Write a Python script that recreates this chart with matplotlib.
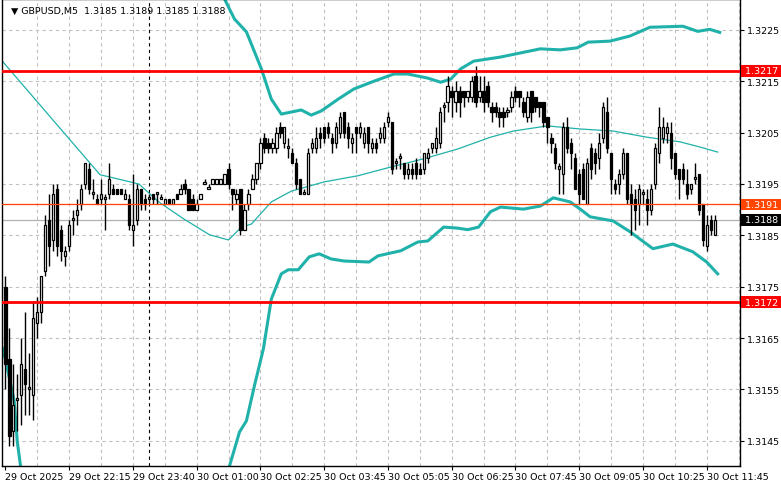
import numpy as np
import matplotlib.pyplot as plt

# GBPUSD M5 candles, prices written as 4 last digits (3175 -> 1.3175)
opens = [3175, 3161, 3147, 3153, 3154, 3159, 3155, 3154, 3168, 3170,
         3178, 3188, 3184, 3194, 3186, 3181, 3183, 3188, 3189, 3191,
         3195, 3198, 3193, 3192, 3192, 3192, 3193, 3194, 3194, 3194,
         3192, 3192, 3186, 3188, 3194, 3192, 3192, 3193, 3193, 3192,
         3191, 3192, 3191, 3193, 3193, 3195, 3194, 3192, 3190, 3192,
         3195, 3194, 3195, 3195, 3195, 3195, 3198, 3194, 3192, 3194,
         3186, 3191, 3194, 3196, 3199, 3204, 3203, 3202, 3202, 3206,
         3203, 3202, 3201, 3199, 3196, 3193, 3193, 3202, 3202, 3205,
         3206, 3206, 3204, 3203, 3205, 3209, 3206, 3203, 3206, 3205,
         3203, 3206, 3202, 3203, 3204, 3204, 3207, 3207, 3199, 3200,
         3199, 3197, 3198, 3199, 3198, 3198, 3200, 3202, 3202, 3203,
         3210, 3211, 3213, 3211, 3213, 3213, 3212, 3212, 3216, 3212,
         3213, 3214, 3210, 3210, 3209, 3209, 3209, 3210, 3213, 3213,
         3211, 3208, 3213, 3212, 3211, 3211, 3208, 3204, 3202, 3198,
         3197, 3206, 3203, 3200, 3197, 3198, 3191, 3202, 3201, 3200,
         3204, 3209, 3201, 3195, 3195, 3197, 3201, 3193, 3192, 3191,
         3193, 3192, 3190, 3195, 3201, 3204, 3205, 3205, 3201, 3198,
         3198, 3195, 3194, 3196, 3197, 3191, 3183, 3188, 3185]
closes = [3160, 3146, 3152, 3153, 3160, 3156, 3155, 3169, 3170, 3177,
          3187, 3183, 3193, 3183, 3182, 3182, 3187, 3188, 3190, 3194,
          3199, 3194, 3193, 3191, 3193, 3192, 3196, 3193, 3193, 3193,
          3193, 3187, 3187, 3194, 3191, 3191, 3192, 3192, 3193, 3192,
          3192, 3191, 3192, 3192, 3194, 3194, 3190, 3190, 3191, 3193,
          3195, 3194, 3196, 3196, 3196, 3197, 3195, 3193, 3193, 3186,
          3190, 3193, 3196, 3199, 3203, 3202, 3202, 3203, 3205, 3205,
          3206, 3202, 3199, 3195, 3193, 3193, 3201, 3203, 3204, 3204,
          3204, 3205, 3203, 3206, 3208, 3205, 3204, 3204, 3205, 3206,
          3205, 3203, 3203, 3202, 3205, 3206, 3208, 3198, 3199, 3200,
          3197, 3198, 3197, 3197, 3197, 3201, 3201, 3203, 3204, 3209,
          3210, 3214, 3212, 3213, 3211, 3212, 3213, 3215, 3211, 3213,
          3211, 3211, 3209, 3209, 3208, 3208, 3209, 3212, 3212, 3212,
          3209, 3212, 3209, 3210, 3210, 3207, 3206, 3203, 3199, 3198,
          3206, 3202, 3201, 3194, 3193, 3192, 3199, 3198, 3199, 3203,
          3210, 3202, 3196, 3194, 3197, 3201, 3192, 3191, 3190, 3194,
          3193, 3190, 3194, 3202, 3206, 3206, 3206, 3200, 3197, 3196,
          3196, 3193, 3195, 3196, 3190, 3184, 3187, 3186, 3188]
highs = [3177, 3167, 3160, 3158, 3165, 3170, 3162, 3172, 3173, 3177,
         3189, 3193, 3195, 3195, 3187, 3183, 3188, 3190, 3192, 3195,
         3199, 3199, 3196, 3193, 3196, 3193, 3199, 3195, 3194, 3194,
         3194, 3193, 3197, 3195, 3194, 3193, 3193, 3193, 3193, 3193,
         3192, 3192, 3192, 3193, 3195, 3196, 3194, 3193, 3192, 3193,
         3196, 3195, 3196, 3196, 3196, 3197, 3199, 3194, 3194, 3194,
         3191, 3194, 3197, 3199, 3204, 3205, 3204, 3204, 3206, 3207,
         3206, 3204, 3202, 3200, 3196, 3194, 3202, 3204, 3206, 3206,
         3206, 3207, 3205, 3207, 3209, 3209, 3207, 3205, 3206, 3207,
         3206, 3206, 3204, 3204, 3206, 3207, 3209, 3207, 3200, 3201,
         3199, 3199, 3199, 3200, 3199, 3201, 3202, 3203, 3206, 3210,
         3211, 3216, 3214, 3215, 3214, 3213, 3213, 3216, 3218, 3216,
         3216, 3215, 3211, 3211, 3210, 3210, 3210, 3213, 3214, 3213,
         3212, 3213, 3213, 3212, 3211, 3211, 3208, 3205, 3203, 3199,
         3207, 3208, 3204, 3201, 3198, 3199, 3200, 3203, 3202, 3205,
         3211, 3212, 3201, 3196, 3198, 3202, 3201, 3195, 3194, 3195,
         3194, 3194, 3195, 3203, 3210, 3208, 3207, 3207, 3201, 3198,
         3199, 3198, 3195, 3199, 3197, 3191, 3189, 3189, 3189]
lows = [3155, 3144, 3144, 3147, 3148, 3150, 3150, 3149, 3165, 3168,
        3177, 3179, 3182, 3181, 3180, 3179, 3182, 3185, 3187, 3190,
        3194, 3193, 3192, 3191, 3191, 3186, 3192, 3193, 3193, 3193,
        3192, 3186, 3183, 3187, 3190, 3190, 3191, 3191, 3191, 3192,
        3191, 3191, 3191, 3192, 3193, 3193, 3190, 3190, 3190, 3192,
        3195, 3194, 3195, 3195, 3195, 3195, 3194, 3190, 3191, 3185,
        3186, 3190, 3194, 3195, 3198, 3201, 3201, 3201, 3201, 3204,
        3202, 3200, 3199, 3194, 3193, 3193, 3193, 3201, 3201, 3202,
        3203, 3204, 3201, 3202, 3204, 3204, 3202, 3201, 3201, 3204,
        3202, 3201, 3201, 3201, 3203, 3203, 3206, 3197, 3198, 3198,
        3196, 3196, 3196, 3196, 3197, 3197, 3199, 3201, 3201, 3202,
        3207, 3209, 3208, 3209, 3208, 3210, 3211, 3211, 3210, 3211,
        3209, 3210, 3207, 3208, 3206, 3206, 3208, 3209, 3211, 3210,
        3208, 3207, 3207, 3209, 3208, 3206, 3203, 3201, 3198, 3193,
        3193, 3201, 3198, 3194, 3191, 3192, 3191, 3196, 3197, 3198,
        3203, 3201, 3193, 3193, 3193, 3196, 3191, 3185, 3186, 3187,
        3191, 3187, 3189, 3194, 3199, 3203, 3203, 3198, 3196, 3192,
        3195, 3192, 3193, 3195, 3189, 3183, 3182, 3185, 3185]

# Bollinger-style bands (bar position, price)
mid_pos = [-0.75, 23.75, 33.5, 38.5, 44.75, 51.25, 56, 59.25, 61.75, 66.75, 71.75, 80, 88.5,
           96.75, 105, 113.5, 121.75, 127.5, 136, 144.25, 152.5, 161, 169.25, 174.25, 178.75]
mid_val = [1.32189, 1.31968, 1.31950, 1.31915, 1.31882, 1.31851, 1.31841, 1.31866, 1.31872,
           1.31915, 1.31936, 1.31954, 1.31966, 1.31983, 1.31999, 1.32018, 1.32041, 1.32053,
           1.32063, 1.32057, 1.32053, 1.32041, 1.32032, 1.32022, 1.32012]
up_pos = [53, 55, 57.5, 60.5, 64.25, 66.75, 69.25, 71.75, 74.25, 76.75, 79.25, 83.5, 87.5, 92.5,
          97.5, 101, 106, 109.25, 111.75, 114.25, 117.5, 124.25, 134.25, 139.25, 143.5, 146.25,
          151.75, 156.75, 161.75, 170, 173.75, 176.75, 179.25]
up_val = [1.3235, 1.3231, 1.32271, 1.32246, 1.32174, 1.32115, 1.32086, 1.32090, 1.32094,
          1.32084, 1.32092, 1.32115, 1.32135, 1.32150, 1.32164, 1.32164, 1.32156, 1.32148,
          1.32154, 1.32174, 1.32189, 1.32197, 1.32213, 1.32211, 1.32215, 1.32226, 1.32228,
          1.32238, 1.32255, 1.32257, 1.32247, 1.32251, 1.32245]
lo_pos = [-0.75, 0, 2.25, 3, 4.25, np.nan, 55.5, 56.25, 58.75, 60.5, 62.5, 64.75, 66.75, 69.25,
          71, 73.5, 76.25, 78.75, 81.75, 85, 91.25, 93.5, 99.25, 103.5, 106, 110, 113.5, 116,
          118.75, 121.75, 124.25, 130, 134.25, 137.5, 141.75, 144.25, 146.75, 152.5, 156.75,
          162.5, 167.5, 172.5, 176, 178.75]
lo_val = [1.3163, 1.31610, 1.31526, 1.31448, 1.31376, np.nan, 1.31376, 1.31401, 1.31467,
          1.31489, 1.31557, 1.31629, 1.31726, 1.31775, 1.31783, 1.31783, 1.31808, 1.31814,
          1.31804, 1.31800, 1.31798, 1.31810, 1.31820, 1.31837, 1.31839, 1.31866, 1.31864,
          1.31861, 1.31866, 1.31896, 1.31905, 1.31901, 1.31907, 1.31923, 1.31915, 1.31901,
          1.31886, 1.31878, 1.31857, 1.31824, 1.31833, 1.31818, 1.31798, 1.31775]

x_ticks = [0, 16, 32, 48, 64, 80, 96, 112, 128, 144, 160, 176]
x_labels = ["29 Oct 2025", "29 Oct 22:15", "29 Oct 23:40", "30 Oct 01:00", "30 Oct 02:25",
            "30 Oct 03:45", "30 Oct 05:05", "30 Oct 06:25", "30 Oct 07:45", "30 Oct 09:05",
            "30 Oct 10:25", "30 Oct 11:45"]
y_ticks = [1.3145, 1.3155, 1.3165, 1.3175, 1.3185, 1.3195, 1.3205, 1.3215, 1.3225]
levels = [1.3217, 1.3172]
bid_line, last_line = 1.3191, 1.3188
separator_bar = 36

o = 1 + np.array(opens) / 1e4
c = 1 + np.array(closes) / 1e4
h = 1 + np.array(highs) / 1e4
l = 1 + np.array(lows) / 1e4
idx = np.arange(len(o))

fs = 6.8
fig = plt.figure(figsize=(7.81, 4.89), dpi=100)
ax = fig.add_axes([0.003, 0.045, 0.944, 0.955])
ax.set_xlim(-0.75, 184.25)
ax.set_ylim(1.31401, 1.32310)

for p in y_ticks:
    ax.axhline(p, color="#c0c0c0", lw=0.8, ls=(0, (3, 3)), zorder=0)
for b in range(8, 185, 8):
    ax.axvline(b, color="#c0c0c0", lw=0.8, ls=(0, (3, 3)), zorder=0)
ax.axvline(separator_bar, color="black", lw=0.8, ls=(0, (3, 3)), zorder=1)

ax.plot(mid_pos, mid_val, color="#20b2aa", lw=0.9, zorder=2)
ax.plot(up_pos, up_val, color="#20b2aa", lw=2.2, zorder=2)
ax.plot(lo_pos, lo_val, color="#20b2aa", lw=2.2, zorder=2)

ax.vlines(idx, l, h, color="black", lw=1, zorder=3)
up = c >= o
body = np.where(np.abs(c - o) < 0.00004, 0.00004, np.abs(c - o))
ax.bar(idx[up], body[up], bottom=np.minimum(o, c)[up], width=0.6,
       color="white", edgecolor="black", lw=0.9, zorder=4)
ax.bar(idx[~up], body[~up], bottom=np.minimum(o, c)[~up], width=0.6,
       color="black", edgecolor="black", lw=0.9, zorder=4)

for lev in levels:
    ax.axhline(lev, color="#ff0000", lw=2, zorder=5)
ax.axhline(bid_line, color="#ff4500", lw=0.9, zorder=5)
ax.axhline(last_line, color="#b0b0b0", lw=0.9, zorder=1)

ax.yaxis.tick_right()
ax.set_yticks(y_ticks)
ax.set_yticklabels([f"{v:.4f}" for v in y_ticks])
ax.set_xticks(x_ticks)
ax.set_xticklabels(x_labels, ha="left")
ax.tick_params(labelsize=fs, length=3, color="black", pad=2)
ax.tick_params(axis="x", pad=1)
for s in ax.spines.values():
    s.set_linewidth(1)

# price tags on the right axis
tags = [(1.3217, "#ff0000"), (1.3172, "#ff0000"), (bid_line, "#ff4500"), (last_line, "black")]
for p, bg in tags:
    ax.text(1.003, p, f" {p:.4f} ", transform=ax.get_yaxis_transform(), va="center", ha="left",
            fontsize=fs, color="white", zorder=10, clip_on=False,
            bbox=dict(boxstyle="square,pad=0.12", fc=bg, ec="none"))

ax.text(0.012, 0.985, "\u25bc GBPUSD,M5  1.3185 1.3189 1.3185 1.3188", transform=ax.transAxes,
        va="top", ha="left", fontsize=fs, color="black")

fig.savefig("out.png", dpi=100)
